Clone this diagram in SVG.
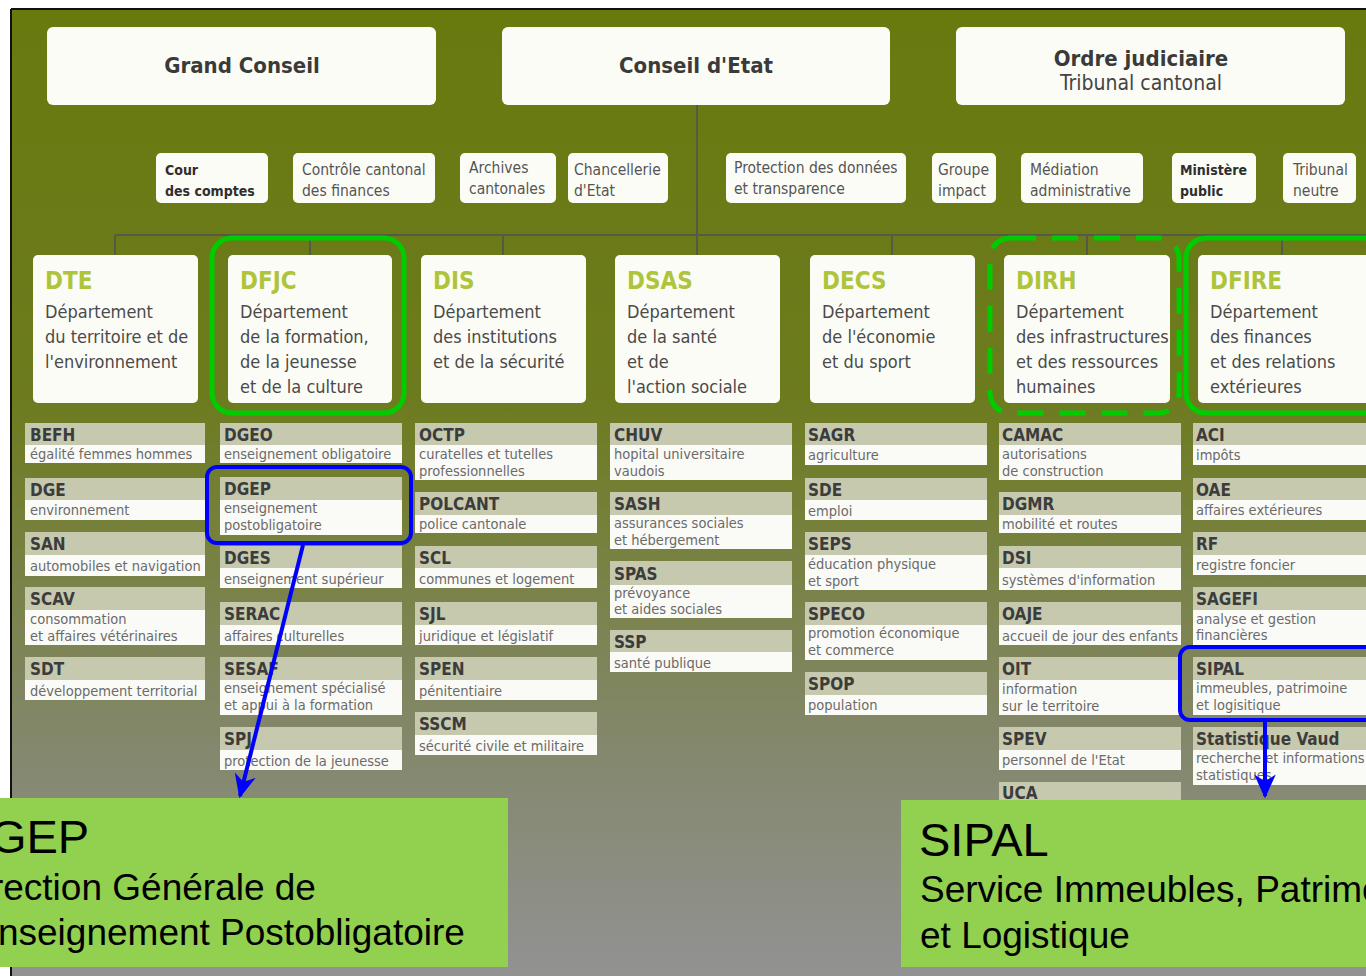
<svg xmlns="http://www.w3.org/2000/svg" width="1366" height="976" viewBox="0 0 1366 976">
<defs>
<linearGradient id="bg" x1="0" y1="0" x2="0" y2="1">
<stop offset="0" stop-color="#687a0e"/>
<stop offset="0.4" stop-color="#6d7b1e"/>
<stop offset="0.55" stop-color="#77813e"/>
<stop offset="0.75" stop-color="#83876a"/>
<stop offset="1" stop-color="#929292"/>
</linearGradient>
<marker id="ah" viewBox="0 0 20 20" refX="18" refY="10" markerWidth="6" markerHeight="6" orient="auto" markerUnits="strokeWidth">
<path d="M0,1 L20,10 L0,19 L6,10 z" fill="#0000ff"/>
</marker>
<style>
.big{fill:#fcfcf6;}
.bigt{font-family:"Liberation Sans Narrow","DejaVu Sans Condensed",sans-serif;font-weight:bold;font-size:22px;fill:#3a3a3a;text-anchor:middle;}
.bigs{font-family:"Liberation Sans Narrow","DejaVu Sans Condensed",sans-serif;font-size:21px;fill:#444;text-anchor:middle;}
.sm{fill:#fcfcf6;}
.smt{font-family:"Liberation Sans Narrow","DejaVu Sans Condensed",sans-serif;font-size:15.5px;fill:#555;}
.smb{font-family:"Liberation Sans Narrow","DejaVu Sans Condensed",sans-serif;font-size:14px;font-weight:bold;fill:#2e2e2e;}
.dep{fill:#fcfcf6;}
.dept{font-family:"Liberation Sans Narrow","DejaVu Sans Condensed",sans-serif;font-weight:bold;font-size:24px;fill:#aec43a;}
.depd{font-family:"Liberation Sans Narrow","DejaVu Sans Condensed",sans-serif;font-size:18px;fill:#4a4a4a;}
.hd{fill:#c6c9ad;}
.wd{fill:#fafaf6;}
.abb{font-family:"Liberation Sans Narrow","DejaVu Sans Condensed",sans-serif;font-weight:bold;font-size:17px;fill:#3c3c3c;}
.dsc{font-family:"Liberation Sans Narrow","DejaVu Sans Condensed",sans-serif;font-size:14.5px;fill:#6a6a6a;}
.conn{stroke:#555a48;stroke-width:2;fill:none;}
.hl{fill:none;stroke:#00cc00;stroke-width:5;}
.hlb{fill:none;stroke:#0000ff;stroke-width:4;}
.arr{stroke:#0000ff;stroke-width:4;fill:none;marker-end:url(#ah);}
.call{fill:#92d050;}
.ct1{font-family:"Liberation Sans",Arial,sans-serif;font-size:47px;fill:#000;}
.ct2{font-family:"Liberation Sans",Arial,sans-serif;font-size:37px;fill:#000;}
</style>
</defs>
<rect x="0" y="0" width="1366" height="976" fill="#ffffff"/>
<rect x="11" y="9" width="1355" height="967" fill="url(#bg)"/>
<line x1="11" y1="9" x2="1366" y2="9" stroke="#111" stroke-width="2"/>
<line x1="11" y1="9" x2="11" y2="976" stroke="#111" stroke-width="2"/>

<g id="connectors">
<path class="conn" d="M697,105 V235 M115,235 H1366 M115,235 V255 M310,235 V255 M503,235 V255 M697,235 V255 M892,235 V255 M1087,235 V255 M1282,235 V255"/>
</g>

<g id="grand-conseil"><rect class="big" x="47" y="27" width="389" height="78" rx="6"/><text class="bigt" x="242" y="73">Grand Conseil</text></g>
<g id="conseil-etat"><rect class="big" x="502" y="27" width="388" height="78" rx="6"/><text class="bigt" x="696" y="73">Conseil d'Etat</text></g>
<g id="ordre-judiciaire"><rect class="big" x="956" y="27" width="389" height="78" rx="6"/><text class="bigt" x="1141" y="66">Ordre judiciaire</text><text class="bigs" x="1141" y="90">Tribunal cantonal</text></g>

<g id="cour-comptes"><rect class="sm" x="156" y="153" width="112" height="50" rx="5"/><text class="smb" x="165" y="175">Cour</text><text class="smb" x="165" y="196">des comptes</text></g>
<g id="controle-cantonal"><rect class="sm" x="293" y="153" width="142" height="50" rx="5"/><text class="smt" x="302" y="175">Contrôle cantonal</text><text class="smt" x="302" y="196">des finances</text></g>
<g id="archives"><rect class="sm" x="460" y="153" width="96" height="50" rx="5"/><text class="smt" x="469" y="173">Archives</text><text class="smt" x="469" y="194">cantonales</text></g>
<g id="chancellerie"><rect class="sm" x="568" y="153" width="100" height="50" rx="5"/><text class="smt" x="574" y="175">Chancellerie</text><text class="smt" x="574" y="196">d'Etat</text></g>
<g id="protection"><rect class="sm" x="726" y="153" width="180" height="50" rx="5"/><text class="smt" x="734" y="173">Protection des données</text><text class="smt" x="734" y="194">et transparence</text></g>
<g id="groupe-impact"><rect class="sm" x="932" y="153" width="64" height="50" rx="5"/><text class="smt" x="938" y="175">Groupe</text><text class="smt" x="938" y="196">impact</text></g>
<g id="mediation"><rect class="sm" x="1021" y="153" width="122" height="50" rx="5"/><text class="smt" x="1030" y="175">Médiation</text><text class="smt" x="1030" y="196">administrative</text></g>
<g id="ministere"><rect class="sm" x="1172" y="153" width="84" height="50" rx="5"/><text class="smb" x="1180" y="175">Ministère</text><text class="smb" x="1180" y="196">public</text></g>
<g id="tribunal-neutre"><rect class="sm" x="1283" y="153" width="73" height="50" rx="5"/><text class="smt" x="1293" y="175">Tribunal</text><text class="smt" x="1293" y="196">neutre</text></g>

<g id="dte"><rect class="dep" x="33" y="255" width="165" height="148" rx="5"/><text class="dept" x="45" y="289">DTE</text><text class="depd"><tspan x="45" y="318">Département</tspan><tspan x="45" y="343">du territoire et de</tspan><tspan x="45" y="368">l'environnement</tspan></text></g>
<g id="dfjc"><rect class="dep" x="228" y="255" width="164" height="148" rx="5"/><text class="dept" x="240" y="289">DFJC</text><text class="depd"><tspan x="240" y="318">Département</tspan><tspan x="240" y="343">de la formation,</tspan><tspan x="240" y="368">de la jeunesse</tspan><tspan x="240" y="393">et de la culture</tspan></text></g>
<g id="dis"><rect class="dep" x="421" y="255" width="165" height="148" rx="5"/><text class="dept" x="433" y="289">DIS</text><text class="depd"><tspan x="433" y="318">Département</tspan><tspan x="433" y="343">des institutions</tspan><tspan x="433" y="368">et de la sécurité</tspan></text></g>
<g id="dsas"><rect class="dep" x="615" y="255" width="165" height="148" rx="5"/><text class="dept" x="627" y="289">DSAS</text><text class="depd"><tspan x="627" y="318">Département</tspan><tspan x="627" y="343">de la santé</tspan><tspan x="627" y="368">et de</tspan><tspan x="627" y="393">l'action sociale</tspan></text></g>
<g id="decs"><rect class="dep" x="810" y="255" width="165" height="148" rx="5"/><text class="dept" x="822" y="289">DECS</text><text class="depd"><tspan x="822" y="318">Département</tspan><tspan x="822" y="343">de l'économie</tspan><tspan x="822" y="368">et du sport</tspan></text></g>
<g id="dirh"><rect class="dep" x="1004" y="255" width="166" height="148" rx="5"/><text class="dept" x="1016" y="289">DIRH</text><text class="depd"><tspan x="1016" y="318">Département</tspan><tspan x="1016" y="343">des infrastructures</tspan><tspan x="1016" y="368">et des ressources</tspan><tspan x="1016" y="393">humaines</tspan></text></g>
<g id="dfire"><rect class="dep" x="1198" y="255" width="180" height="148" rx="5"/><text class="dept" x="1210" y="289">DFIRE</text><text class="depd"><tspan x="1210" y="318">Département</tspan><tspan x="1210" y="343">des finances</tspan><tspan x="1210" y="368">et des relations</tspan><tspan x="1210" y="393">extérieures</tspan></text></g>

<g id="highlights">
<rect class="hl" x="212" y="238" width="192" height="175" rx="20"/>
<rect class="hl" x="990" y="238" width="189" height="175" rx="20" stroke-dasharray="26,16"/>
<rect class="hl" x="1186" y="238" width="200" height="175" rx="20"/>
</g>

<!-- Column 1 DTE -->
<g id="befh"><rect class="hd" x="25" y="423" width="180" height="22"/><rect class="wd" x="25" y="445" width="180" height="18"/><text class="abb" x="30" y="441">BEFH</text><text class="dsc" x="30" y="459">égalité femmes hommes</text></g>
<g id="dge"><rect class="hd" x="25" y="478" width="180" height="22"/><rect class="wd" x="25" y="500" width="180" height="20"/><text class="abb" x="30" y="496">DGE</text><text class="dsc" x="30" y="515">environnement</text></g>
<g id="san"><rect class="hd" x="25" y="532" width="180" height="23"/><rect class="wd" x="25" y="555" width="180" height="21"/><text class="abb" x="30" y="550">SAN</text><text class="dsc" x="30" y="571">automobiles et navigation</text></g>
<g id="scav"><rect class="hd" x="25" y="587" width="180" height="23"/><rect class="wd" x="25" y="610" width="180" height="35"/><text class="abb" x="30" y="605">SCAV</text><text class="dsc"><tspan x="30" y="624">consommation</tspan><tspan x="30" y="641">et affaires vétérinaires</tspan></text></g>
<g id="sdt"><rect class="hd" x="25" y="657" width="180" height="23"/><rect class="wd" x="25" y="680" width="180" height="20"/><text class="abb" x="30" y="675">SDT</text><text class="dsc" x="30" y="696">développement territorial</text></g>

<!-- Column 2 DFJC -->
<g id="dgeo"><rect class="hd" x="220" y="423" width="182" height="22"/><rect class="wd" x="220" y="445" width="182" height="18"/><text class="abb" x="224" y="441">DGEO</text><text class="dsc" x="224" y="459">enseignement obligatoire</text></g>
<g id="dgep"><rect class="hd" x="220" y="477" width="182" height="23"/><rect class="wd" x="220" y="500" width="182" height="35"/><text class="abb" x="224" y="495">DGEP</text><text class="dsc"><tspan x="224" y="513">enseignement</tspan><tspan x="224" y="530">postobligatoire</tspan></text></g>
<g id="dges"><rect class="hd" x="220" y="546" width="182" height="22"/><rect class="wd" x="220" y="568" width="182" height="20"/><text class="abb" x="224" y="564">DGES</text><text class="dsc" x="224" y="584">enseignement supérieur</text></g>
<g id="serac"><rect class="hd" x="220" y="602" width="182" height="23"/><rect class="wd" x="220" y="625" width="182" height="20"/><text class="abb" x="224" y="620">SERAC</text><text class="dsc" x="224" y="641">affaires culturelles</text></g>
<g id="sesaf"><rect class="hd" x="220" y="657" width="182" height="23"/><rect class="wd" x="220" y="680" width="182" height="35"/><text class="abb" x="224" y="675">SESAF</text><text class="dsc"><tspan x="224" y="693">enseignement spécialisé</tspan><tspan x="224" y="710">et appui à la formation</tspan></text></g>
<g id="spj"><rect class="hd" x="220" y="727" width="182" height="23"/><rect class="wd" x="220" y="750" width="182" height="20"/><text class="abb" x="224" y="745">SPJ</text><text class="dsc" x="224" y="766">protection de la jeunesse</text></g>

<!-- Column 3 DIS -->
<g id="octp"><rect class="hd" x="415" y="423" width="182" height="22"/><rect class="wd" x="415" y="445" width="182" height="35"/><text class="abb" x="419" y="441">OCTP</text><text class="dsc"><tspan x="419" y="459">curatelles et tutelles</tspan><tspan x="419" y="476">professionnelles</tspan></text></g>
<g id="polcant"><rect class="hd" x="415" y="492" width="182" height="23"/><rect class="wd" x="415" y="515" width="182" height="18"/><text class="abb" x="419" y="510">POLCANT</text><text class="dsc" x="419" y="529">police cantonale</text></g>
<g id="scl"><rect class="hd" x="415" y="546" width="182" height="22"/><rect class="wd" x="415" y="568" width="182" height="20"/><text class="abb" x="419" y="564">SCL</text><text class="dsc" x="419" y="584">communes et logement</text></g>
<g id="sjl"><rect class="hd" x="415" y="602" width="182" height="23"/><rect class="wd" x="415" y="625" width="182" height="20"/><text class="abb" x="419" y="620">SJL</text><text class="dsc" x="419" y="641">juridique et législatif</text></g>
<g id="spen"><rect class="hd" x="415" y="657" width="182" height="23"/><rect class="wd" x="415" y="680" width="182" height="20"/><text class="abb" x="419" y="675">SPEN</text><text class="dsc" x="419" y="696">pénitentiaire</text></g>
<g id="sscm"><rect class="hd" x="415" y="712" width="182" height="23"/><rect class="wd" x="415" y="735" width="182" height="20"/><text class="abb" x="419" y="730">SSCM</text><text class="dsc" x="419" y="751">sécurité civile et militaire</text></g>

<!-- Column 4 DSAS -->
<g id="chuv"><rect class="hd" x="610" y="423" width="182" height="22"/><rect class="wd" x="610" y="445" width="182" height="35"/><text class="abb" x="614" y="441">CHUV</text><text class="dsc"><tspan x="614" y="459">hopital universitaire</tspan><tspan x="614" y="476">vaudois</tspan></text></g>
<g id="sash"><rect class="hd" x="610" y="492" width="182" height="23"/><rect class="wd" x="610" y="515" width="182" height="34"/><text class="abb" x="614" y="510">SASH</text><text class="dsc"><tspan x="614" y="528">assurances sociales</tspan><tspan x="614" y="545">et hébergement</tspan></text></g>
<g id="spas"><rect class="hd" x="610" y="561" width="182" height="24"/><rect class="wd" x="610" y="585" width="182" height="33"/><text class="abb" x="614" y="580">SPAS</text><text class="dsc"><tspan x="614" y="598">prévoyance</tspan><tspan x="614" y="614">et aides sociales</tspan></text></g>
<g id="ssp"><rect class="hd" x="610" y="630" width="182" height="22"/><rect class="wd" x="610" y="652" width="182" height="20"/><text class="abb" x="614" y="648">SSP</text><text class="dsc" x="614" y="668">santé publique</text></g>

<!-- Column 5 DECS -->
<g id="sagr"><rect class="hd" x="805" y="423" width="182" height="22"/><rect class="wd" x="805" y="445" width="182" height="20"/><text class="abb" x="808" y="441">SAGR</text><text class="dsc" x="808" y="460">agriculture</text></g>
<g id="sde"><rect class="hd" x="805" y="478" width="182" height="22"/><rect class="wd" x="805" y="500" width="182" height="20"/><text class="abb" x="808" y="496">SDE</text><text class="dsc" x="808" y="516">emploi</text></g>
<g id="seps"><rect class="hd" x="805" y="532" width="182" height="23"/><rect class="wd" x="805" y="555" width="182" height="35"/><text class="abb" x="808" y="550">SEPS</text><text class="dsc"><tspan x="808" y="569">éducation physique</tspan><tspan x="808" y="586">et sport</tspan></text></g>
<g id="speco"><rect class="hd" x="805" y="602" width="182" height="23"/><rect class="wd" x="805" y="625" width="182" height="35"/><text class="abb" x="808" y="620">SPECO</text><text class="dsc"><tspan x="808" y="638">promotion économique</tspan><tspan x="808" y="655">et commerce</tspan></text></g>
<g id="spop"><rect class="hd" x="805" y="672" width="182" height="23"/><rect class="wd" x="805" y="695" width="182" height="20"/><text class="abb" x="808" y="690">SPOP</text><text class="dsc" x="808" y="710">population</text></g>

<!-- Column 6 DIRH -->
<g id="camac"><rect class="hd" x="999" y="423" width="182" height="22"/><rect class="wd" x="999" y="445" width="182" height="35"/><text class="abb" x="1002" y="441">CAMAC</text><text class="dsc"><tspan x="1002" y="459">autorisations</tspan><tspan x="1002" y="476">de construction</tspan></text></g>
<g id="dgmr"><rect class="hd" x="999" y="492" width="182" height="23"/><rect class="wd" x="999" y="515" width="182" height="18"/><text class="abb" x="1002" y="510">DGMR</text><text class="dsc" x="1002" y="529">mobilité et routes</text></g>
<g id="dsi"><rect class="hd" x="999" y="546" width="182" height="22"/><rect class="wd" x="999" y="568" width="182" height="22"/><text class="abb" x="1002" y="564">DSI</text><text class="dsc" x="1002" y="585">systèmes d'information</text></g>
<g id="oaje"><rect class="hd" x="999" y="602" width="182" height="23"/><rect class="wd" x="999" y="625" width="182" height="20"/><text class="abb" x="1002" y="620">OAJE</text><text class="dsc" x="1002" y="641">accueil de jour des enfants</text></g>
<g id="oit"><rect class="hd" x="999" y="657" width="182" height="23"/><rect class="wd" x="999" y="680" width="182" height="35"/><text class="abb" x="1002" y="675">OIT</text><text class="dsc"><tspan x="1002" y="694">information</tspan><tspan x="1002" y="711">sur le territoire</tspan></text></g>
<g id="spev"><rect class="hd" x="999" y="727" width="182" height="23"/><rect class="wd" x="999" y="750" width="182" height="20"/><text class="abb" x="1002" y="745">SPEV</text><text class="dsc" x="1002" y="765">personnel de l'Etat</text></g>
<g id="uca"><rect class="hd" x="999" y="782" width="182" height="23"/><text class="abb" x="1002" y="799">UCA</text></g>

<!-- Column 7 DFIRE -->
<g id="aci"><rect class="hd" x="1193" y="423" width="185" height="22"/><rect class="wd" x="1193" y="445" width="185" height="20"/><text class="abb" x="1196" y="441">ACI</text><text class="dsc" x="1196" y="460">impôts</text></g>
<g id="oae"><rect class="hd" x="1193" y="478" width="185" height="22"/><rect class="wd" x="1193" y="500" width="185" height="20"/><text class="abb" x="1196" y="496">OAE</text><text class="dsc" x="1196" y="515">affaires extérieures</text></g>
<g id="rf"><rect class="hd" x="1193" y="532" width="185" height="23"/><rect class="wd" x="1193" y="555" width="185" height="20"/><text class="abb" x="1196" y="550">RF</text><text class="dsc" x="1196" y="570">registre foncier</text></g>
<g id="sagefi"><rect class="hd" x="1193" y="587" width="185" height="23"/><rect class="wd" x="1193" y="610" width="185" height="35"/><text class="abb" x="1196" y="605">SAGEFI</text><text class="dsc"><tspan x="1196" y="624">analyse et gestion</tspan><tspan x="1196" y="640">financières</tspan></text></g>
<g id="sipal"><rect class="hd" x="1193" y="657" width="185" height="23"/><rect class="wd" x="1193" y="680" width="185" height="35"/><text class="abb" x="1196" y="675">SIPAL</text><text class="dsc"><tspan x="1196" y="693">immeubles, patrimoine</tspan><tspan x="1196" y="710">et logisitique</tspan></text></g>
<g id="statvd"><rect class="hd" x="1193" y="727" width="185" height="23"/><rect class="wd" x="1193" y="750" width="185" height="35"/><text class="abb" x="1196" y="745">Statistique Vaud</text><text class="dsc"><tspan x="1196" y="763">recherche et informations</tspan><tspan x="1196" y="780">statistiques</tspan></text></g>

<g id="blue-highlights">
<rect class="hlb" x="207" y="467" width="204" height="76" rx="10"/>
<rect class="hlb" x="1180" y="647" width="200" height="73" rx="10"/>
</g>

<g id="arrows">
<line class="arr" x1="303" y1="545" x2="240" y2="796"/>
<line class="arr" x1="1265" y1="722" x2="1265" y2="796"/>
</g>

<g id="callout-dgep"><rect class="call" x="0" y="798" width="508" height="169"/><text class="ct1" x="-44" y="853">DGEP</text><text class="ct2" x="-44" y="900">Direction Générale de</text><text class="ct2" x="-42" y="945">l'Enseignement Postobligatoire</text></g>
<g id="callout-sipal"><rect class="call" x="901" y="800" width="465" height="167"/><text class="ct1" x="919" y="856">SIPAL</text><text class="ct2" x="920" y="902">Service Immeubles, Patrimoine</text><text class="ct2" x="920" y="948">et Logistique</text></g>
</svg>
